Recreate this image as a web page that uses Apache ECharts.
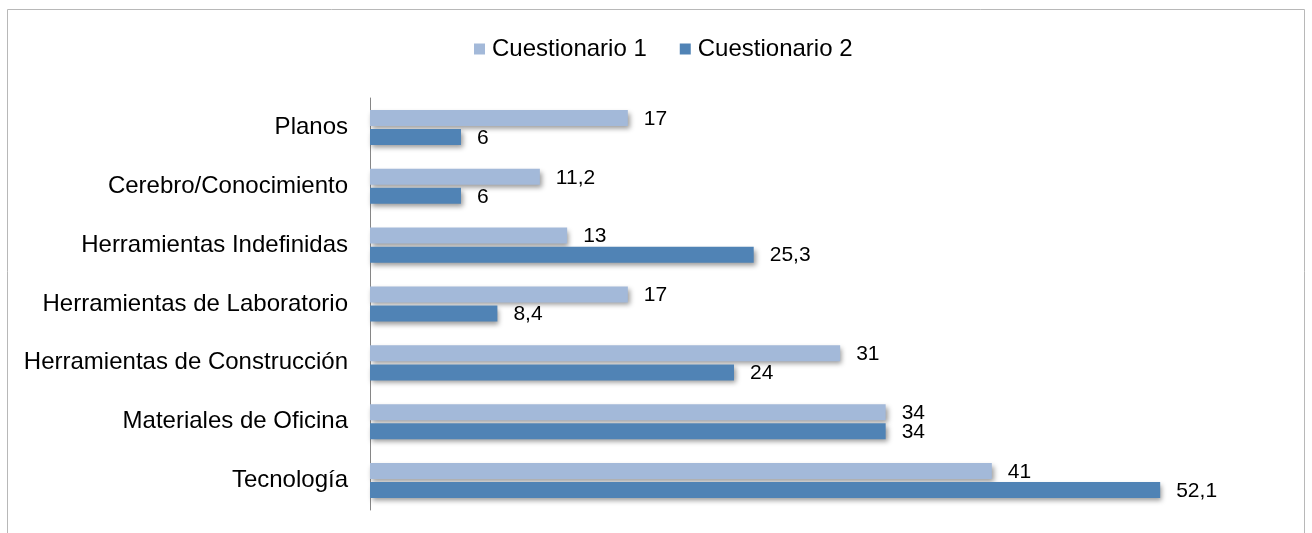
<!DOCTYPE html>
<html>
<head>
<meta charset="utf-8">
<script src="https://cdn.jsdelivr.net/npm/echarts@6/dist/echarts.min.js"></script>
<style>
html,body{margin:0;padding:0;background:#fff;}
#chart{width:1312px;height:533px;}
</style>
</head>
<body>
<div id="chart"></div>
<script>
var categories = ["Planos", "Cerebro/Conocimiento", "Herramientas Indefinidas", "Herramientas de Laboratorio", "Herramientas de Construcción", "Materiales de Oficina", "Tecnología"];
var seriesNames = ["Cuestionario 1", "Cuestionario 2"];
var cuestionario1 = [17, 11.2, 13, 17, 31, 34, 41];
var cuestionario2 = [6, 6, 25.3, 8.4, 24, 34, 52.1];

var FONT = '"Liberation Sans", Arial, sans-serif';
var chart = echarts.init(document.getElementById('chart'), null, {renderer: 'canvas'});

function fmt(p) { return String(p.value).replace('.', ','); }

function barSeries(name, data, color) {
  return {
    name: name,
    type: 'bar',
    data: data,
    barWidth: 16,
    barGap: '19%',
    itemStyle: {
      color: color,
      shadowColor: 'rgba(0,0,0,0.4)',
      shadowBlur: 5,
      shadowOffsetX: 2,
      shadowOffsetY: 3
    },
    label: {
      show: true,
      position: 'right',
      distance: 16,
      formatter: fmt,
      color: '#000',
      fontFamily: FONT,
      fontSize: 21,
      offset: [0, 1]
    }
  };
}

chart.setOption({
  animation: false,
  backgroundColor: '#fff',
  graphic: [{
    type: 'rect',
    shape: {x: 7.5, y: 9.5, width: 1297, height: 600},
    style: {fill: 'none', stroke: '#b8b8b8', lineWidth: 1},
    silent: true
  }],
  legend: {
    top: 32,
    left: 469,
    icon: 'rect',
    itemWidth: 11,
    itemHeight: 11,
    itemGap: 33,
    textStyle: {fontFamily: FONT, fontSize: 24, color: '#000', padding: [0, 0, 0, 2]},
    data: seriesNames
  },
  grid: {left: 370, right: 32, top: 98, bottom: 23, containLabel: false},
  xAxis: {
    type: 'value',
    min: 0,
    max: 60,
    show: false
  },
  yAxis: {
    type: 'category',
    data: categories,
    inverse: true,
    axisLine: {show: true, lineStyle: {color: '#868686', width: 1}},
    axisTick: {show: false},
    axisLabel: {fontFamily: FONT, fontSize: 24, color: '#000', margin: 22}
  },
  series: [
    barSeries(seriesNames[0], cuestionario1, '#A3B9D9'),
    barSeries(seriesNames[1], cuestionario2, '#5083B5')
  ]
});
</script>
</body>
</html>
